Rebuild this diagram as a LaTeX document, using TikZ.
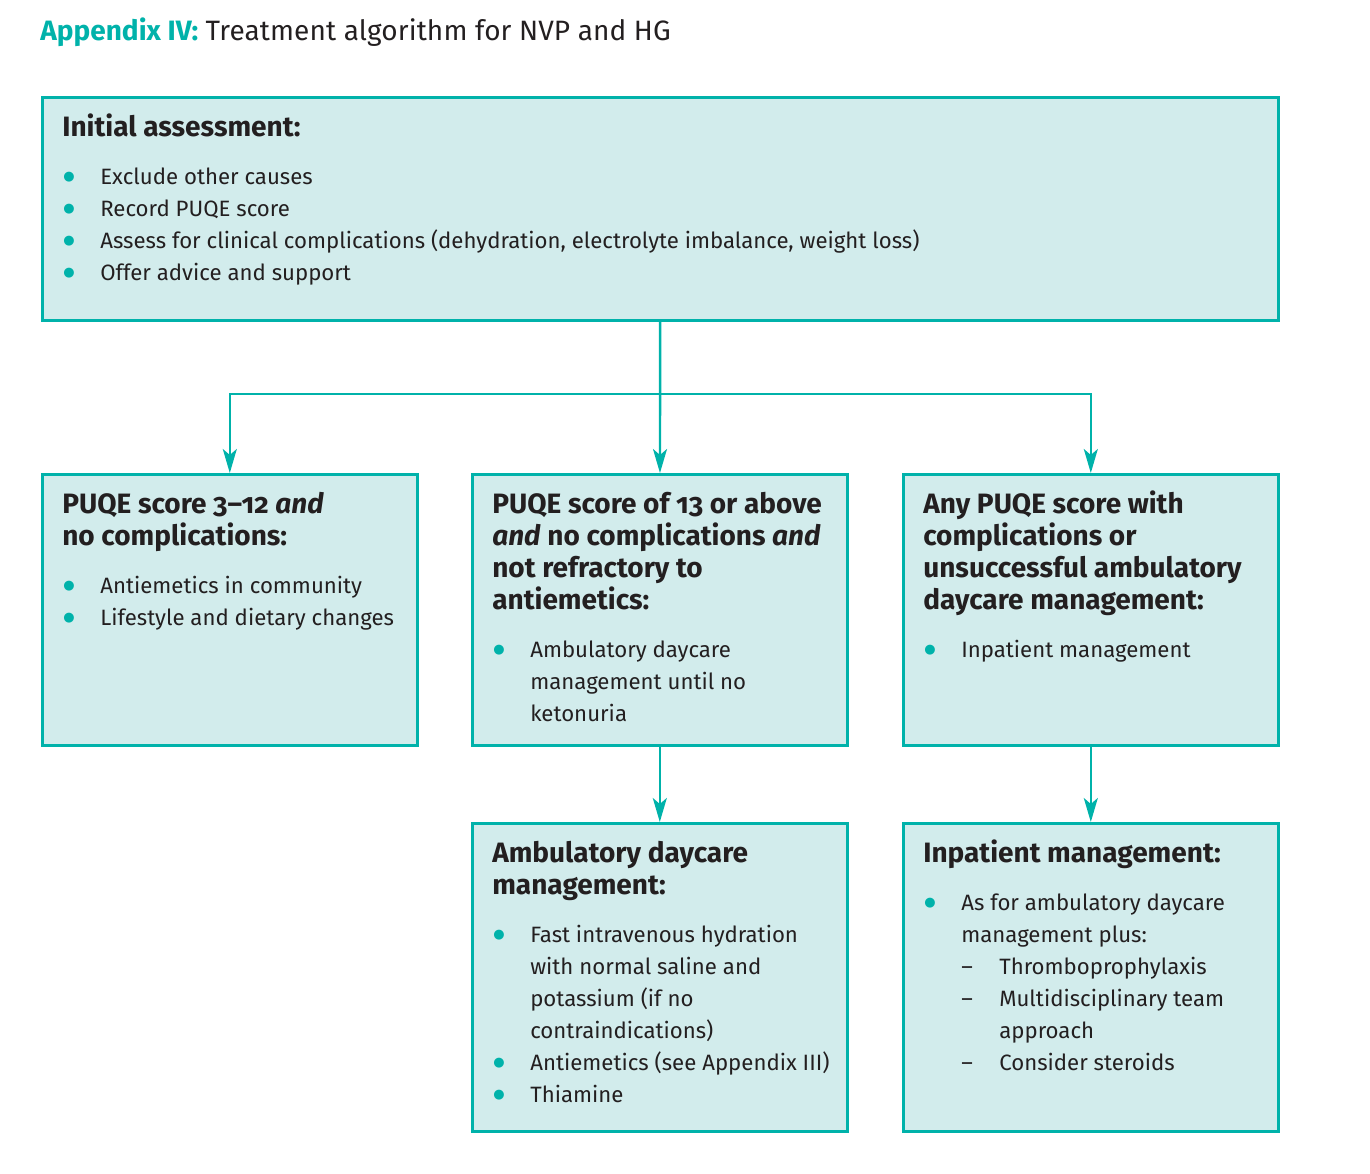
\documentclass[tikz,border=0pt]{standalone}
\usepackage{fontspec}
\setmainfont{Fira Sans}[Numbers=OldStyle]
\newfontfamily\titlefont{Fira Sans}[LetterSpace=0.4]
\newfontfamily\dotfont{DejaVu Sans}
\usetikzlibrary{arrows.meta}
\definecolor{rcteal}{RGB}{0,178,170}
\definecolor{rcfill}{RGB}{210,236,236}
\definecolor{rctext}{RGB}{35,31,32}
\newcommand\headfont{\bfseries\fontsize{14}{16}\selectfont}
\newcommand\bodyfont{\mdseries\fontsize{11.1}{16}\selectfont}
\newcommand\headline[1]{\noindent{\headfont\rule{0pt}{19.5pt}#1\par}\vspace{8pt}\bodyfont}
\newcommand\dotmark{\textcolor{rcteal}{\dotfont\fontsize{6.5}{8}\selectfont\raisebox{2pt}{●}}}
\newcommand\bitem[1]{\par\hangindent=19pt\hangafter=1\noindent\hbox to 19pt{\hskip0.5pt\dotmark\hss}#1}
\newcommand\ditem[1]{\par\hangindent=38pt\hangafter=1\noindent\hskip19pt\hbox to 19pt{--\hss}#1}
\newcommand\boxtext[3]{\begin{minipage}[t][#2][t]{#1}\raggedright\color{rctext}#3\end{minipage}}
\tikzset{
  box/.style={draw=rcteal, fill=rcfill, line width=1.3pt, inner xsep=10pt, inner ysep=0pt, anchor=north west},
  conn/.style={draw=rcteal, line width=1.2pt, -{Stealth[length=12pt,width=7pt,inset=3pt]}}
}
\begin{document}
\begin{tikzpicture}[x=0.5pt, y=-0.5pt]
  \useasboundingbox (0,0) rectangle (1370,1173);
  % title
  \node[anchor=base west, inner sep=0pt, text=rctext] (title) at (40,40)
    {\fontsize{14}{16}\selectfont\textcolor{rcteal}{\bfseries Appendix IV:} \titlefont Treatment algorithm for NVP and HG};
  % boxes
  \node[box] (init) at (41,96) {\boxtext{598pt}{111.5pt}{%
    \headline{Initial assessment:}
    \bitem{Exclude other causes}
    \bitem{Record PUQE score}
    \bitem{Assess for clinical complications (dehydration, electrolyte imbalance, weight loss)}
    \bitem{Offer advice and support}}};
  \node[box] (pleft) at (41,473) {\boxtext{167.5pt}{135.5pt}{%
    \headline{PUQE score 3--12 \textit{and}\\no complications:}
    \bitem{Antiemetics in community}
    \bitem{Lifestyle and dietary changes}}};
  \node[box] (pmid) at (471,473) {\boxtext{167.5pt}{135.5pt}{%
    \headline{PUQE score of 13 or above\\\textit{and} no complications \textit{and}\\not refractory to\\antiemetics:}
    \bitem{Ambulatory daycare\newline management until no\newline ketonuria}}};
  \node[box] (pright) at (902,473) {\boxtext{167.5pt}{135.5pt}{%
    \headline{Any PUQE score with\\complications or\\unsuccessful ambulatory\\daycare management:}
    \bitem{Inpatient management}}};
  \node[box] (amb) at (471,822) {\boxtext{167.5pt}{154pt}{%
    \headline{Ambulatory daycare\\management:}
    \bitem{Fast intravenous hydration\newline with normal saline and\newline potassium (if no\newline contraindications)}
    \bitem{\mbox{Antiemetics (see Appendix III)}}
    \bitem{Thiamine}}};
  \node[box] (inpat) at (902,822) {\boxtext{167.5pt}{154pt}{%
    \headline{Inpatient management:}
    \bitem{As for ambulatory daycare\newline management plus:}
    \ditem{Thromboprophylaxis}
    \ditem{Multidisciplinary team\newline approach}
    \ditem{Consider steroids}}};
  % connectors
  \coordinate (split) at (659,394);
  \draw[conn] (init) -- (pmid);
  \draw[conn] (split) -| (pleft.north);
  \draw[conn] (split) -| (pright.north);
  \draw[conn] (pmid) -- (amb);
  \draw[conn] (pright) -- (inpat);
\end{tikzpicture}
\end{document}
